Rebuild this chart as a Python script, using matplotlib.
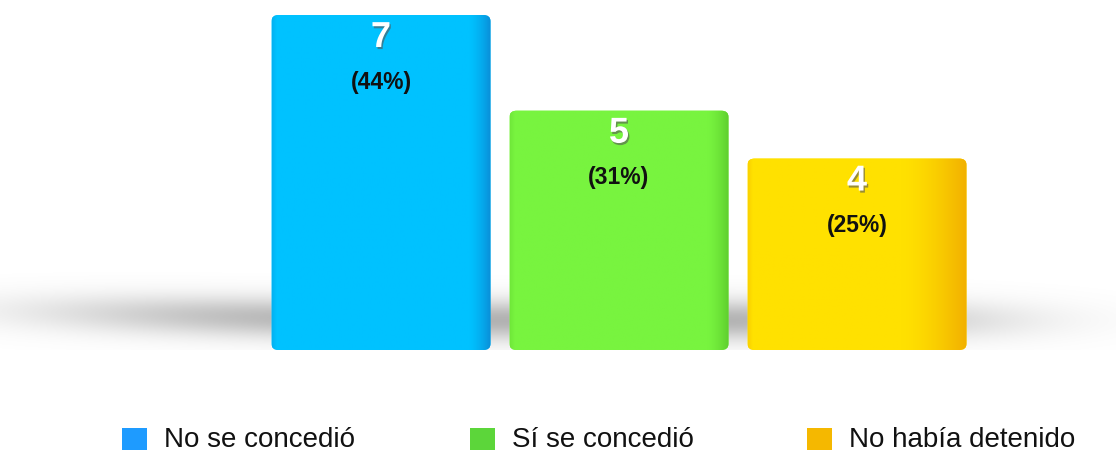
import numpy as np
import matplotlib
matplotlib.use("Agg")
import matplotlib.pyplot as plt
from matplotlib.patches import Rectangle, FancyBboxPatch
from matplotlib.colors import to_rgb
import matplotlib.patheffects as pe

categories = ["No se concedió", "Sí se concedió", "No había detenido"]
counts = [7, 5, 4]
percents = [44, 31, 25]
bar_colors = ["#00C2FF", "#78F43F", "#FFE100"]
edge_colors = ["#0A8FD8", "#5FCF2E", "#F2B000"]
edge_start = [0.9, 0.9, 0.7]
legend_colors = ["#1E9BFF", "#5CD63A", "#F5B800"]

plt.rcParams["font.family"] = ["Liberation Sans", "DejaVu Sans"]

W, H = 1116, 453
fig = plt.figure(figsize=(W / 100, H / 100), dpi=100)
fig.patch.set_facecolor("white")
unit = 238.0
ax = fig.add_axes([0, 103 / H, 1, 335 / H])
ax.set_xlim(-381 / unit, (W - 381) / unit)
ax.set_ylim(0, 7)
ax.axis("off")

x = np.arange(len(categories))
width = 0.92

# soft floor shadow behind the bars
gx = np.linspace(-1.6, 3.1, 500)
gy = np.linspace(-0.3, 1.9, 200)
GX, GY = np.meshgrid(gx, gy)
horiz = np.where(GX < 0.75, np.exp(-((GX - 0.75) / 2.1) ** 4), np.exp(-((GX - 0.75) / 1.8) ** 4))
vert = np.exp(-((GY - 0.62 - 0.12 * np.clip(-GX, 0, None)) / 0.42) ** 2)
shadow = np.zeros(GX.shape + (4,))
shadow[..., :3] = 0.5
shadow[..., 3] = 0.6 * horiz * vert
ax.imshow(shadow, extent=[gx[0], gx[-1], gy[0], gy[-1]], origin="lower",
          aspect="auto", zorder=0, interpolation="bilinear")

for xi, c, base, edge, s in zip(x, counts, bar_colors, edge_colors, edge_start):
    box = FancyBboxPatch((xi - width / 2, 0), width, c,
                         boxstyle="round,pad=0,rounding_size=0.03",
                         mutation_aspect=4.3,
                         facecolor=base, edgecolor="none", zorder=2)
    ax.add_patch(box)
    # horizontal shading: darker right edge
    t = np.linspace(0, 1, 200)
    b = np.array(to_rgb(base))
    e = np.array(to_rgb(edge))
    mix = np.clip((t - s) / (1 - s), 0, 1) ** 1.5
    mix += np.clip((0.02 - t) / 0.02, 0, 1) * 0.3
    grad = b[None, :] * (1 - mix[:, None]) + e[None, :] * mix[:, None]
    im = ax.imshow(grad[None, :, :], extent=[xi - width / 2, xi + width / 2, 0, c],
                   aspect="auto", zorder=3, interpolation="bilinear")
    im.set_clip_path(box)

for xi, c, p in zip(x, counts, percents):
    ax.text(xi, c - 0.47, str(c), ha="center", va="center", fontsize=26,
            fontweight="bold", color="white", zorder=5,
            path_effects=[pe.withSimplePatchShadow(offset=(1, -1.5),
                                                   shadow_rgbFace="#555555", alpha=0.6)])
    ax.text(xi, c - 1.4, f"({p}%)", ha="center", va="center", fontsize=16.5,
            fontweight="bold", color="#111111", zorder=5)

# legend row
square_x = [122, 470, 807]
for sx, col, lab in zip(square_x, legend_colors, categories):
    fig.add_artist(Rectangle((sx / W, 1 - 450 / H), 25 / W, 22 / H,
                             transform=fig.transFigure, facecolor=col, edgecolor="none"))
    fig.text((sx + 42) / W, 1 - 440 / H, lab, ha="left", va="center",
             fontsize=20, color="#111111")

fig.savefig("out.png", dpi=100, facecolor="white")
